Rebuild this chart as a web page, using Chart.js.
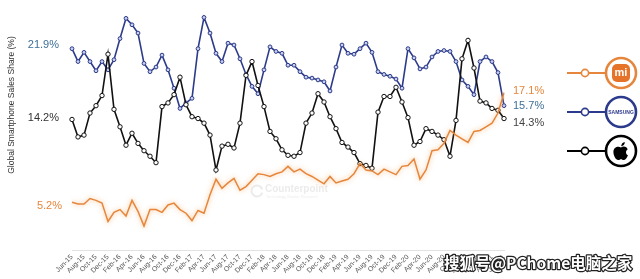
<!DOCTYPE html>
<html><head><meta charset="utf-8">
<script src="https://cdn.jsdelivr.net/npm/chart.js@4"></script>
<style>html,body{margin:0;padding:0;background:#fff;}#wrap{width:640px;height:279px;}</style>
</head><body><div id="wrap"><canvas id="c" width="640" height="279"></canvas></div>
<script>
const categories = [
"Jun-15","Jul-15","Aug-15","Sep-15","Oct-15","Nov-15","Dec-15","Jan-16","Feb-16","Mar-16","Apr-16","May-16",
"Jun-16","Jul-16","Aug-16","Sep-16","Oct-16","Nov-16","Dec-16","Jan-17","Feb-17","Mar-17","Apr-17","May-17",
"Jun-17","Jul-17","Aug-17","Sep-17","Oct-17","Nov-17","Dec-17","Jan-18","Feb-18","Mar-18","Apr-18","May-18",
"Jun-18","Jul-18","Aug-18","Sep-18","Oct-18","Nov-18","Dec-18","Jan-19","Feb-19","Mar-19","Apr-19","May-19",
"Jun-19","Jul-19","Aug-19","Sep-19","Oct-19","Nov-19","Dec-19","Jan-20","Feb-20","Mar-20","Apr-20","May-20",
"Jun-20","Jul-20","Aug-20","Sep-20","Oct-20","Nov-20","Dec-20","Jan-21","Feb-21","Mar-21","Apr-21","May-21","Jun-21"];
const samsung = [21.9,20.5,21.5,20.5,19.5,20.5,19.6,20.7,23.0,25.2,24.5,23.6,20.3,19.4,19.9,21.2,19.6,17.6,15.4,16.0,
16.5,21.9,25.3,23.6,21.4,20.5,22.5,22.3,20.8,19.1,17.8,17.0,19.6,22.1,21.6,21.4,20.1,20.1,19.4,18.8,
18.7,18.5,18.3,17.3,19.9,22.3,21.4,21.3,21.9,22.5,21.5,19.4,19.1,18.9,18.6,17.6,21.9,20.9,19.7,19.9,
21.0,21.6,21.7,21.6,20.5,18.5,17.8,16.9,20.5,21.0,20.5,19.3,15.7];
const apple = [14.2,12.3,12.5,14.9,15.7,16.8,21.3,15.3,13.4,11.4,12.7,11.6,10.8,10.2,9.5,15.6,16.0,16.9,18.8,15.8,
14.5,14.3,13.8,12.5,8.7,11.3,11.5,11.1,13.8,19.0,20.5,17.9,15.6,12.9,12.1,10.9,10.3,10.2,10.6,13.8,
14.9,17.0,16.1,14.5,13.2,11.7,11.2,10.6,9.4,9.2,8.9,15.0,16.7,16.7,17.7,16.1,14.4,11.4,11.8,13.2,
12.9,12.5,12.0,10.2,14.1,20.8,22.8,19.8,16.2,16.0,15.4,15.2,14.3];
const xiaomi = [5.2,5.0,5.0,5.6,5.4,5.1,3.1,4.1,4.4,3.7,5.4,4.2,2.6,4.4,4.4,4.1,4.9,5.1,4.4,4.0,
3.2,4.3,4.0,6.0,7.7,6.7,7.3,7.8,6.5,6.9,7.6,8.3,8.2,8.0,8.3,8.5,9.1,8.5,8.8,8.3,
8.0,7.6,7.2,8.0,7.3,7.5,7.7,8.3,9.4,8.7,8.6,8.2,8.8,8.5,8.2,9.1,9.2,9.9,7.7,8.7,
10.8,10.9,11.6,13.0,12.5,12.1,11.7,12.9,13.0,13.4,13.8,14.9,17.1];
const seriesNames = ["Samsung","Apple","Xiaomi"];
const yTitle = "Global Smartphone Sales Share (%)";

const C_BLUE = '#2c3b8a', C_BLACK = '#111111', C_ORANGE = '#e6863c';
const FONT = "'Liberation Sans', Arial, sans-serif";

const fmt = v => v.toFixed(1) + '%';

const glow = {
  id: 'glow',
  beforeDatasetDraw(chart, args) {
    if (args.index === 2) {
      const ctx = chart.ctx; ctx.save();
      ctx.shadowColor = 'rgba(245,150,60,0.65)'; ctx.shadowBlur = 5;
    }
  },
  afterDatasetDraw(chart, args) { if (args.index === 2) chart.ctx.restore(); }
};

function drawApple(ctx, cx, cy, s) {
  ctx.save(); ctx.translate(cx, cy); ctx.scale(s, s);
  ctx.fillStyle = '#000';
  ctx.beginPath();
  ctx.moveTo(0, -3.2);
  ctx.bezierCurveTo(2.5, -5.2, 6.5, -4.2, 7, -1);
  ctx.bezierCurveTo(4.6, 0.2, 4.8, 4.2, 7.3, 5);
  ctx.bezierCurveTo(6.2, 8, 4.5, 10, 3, 10);
  ctx.bezierCurveTo(1.6, 10, 1, 9.2, 0, 9.2);
  ctx.bezierCurveTo(-1, 9.2, -1.6, 10, -3, 10);
  ctx.bezierCurveTo(-5.5, 10, -8, 5, -8, 1.5);
  ctx.bezierCurveTo(-8, -3.5, -3, -5.2, 0, -3.2);
  ctx.closePath(); ctx.fill();
  ctx.beginPath();
  ctx.moveTo(0.2, -4.5);
  ctx.bezierCurveTo(0.2, -7, 2, -8.8, 4, -9);
  ctx.bezierCurveTo(4, -6.5, 2.4, -4.8, 0.2, -4.5);
  ctx.closePath(); ctx.fill();
  ctx.restore();
}

const deco = {
  id: 'deco',
  afterDraw(chart) {
    const ctx = chart.ctx, ys = chart.scales.y, xs = chart.scales.x;
    const n = categories.length - 1;
    ctx.save();
    // watermark counterpoint
    ctx.globalAlpha = 0.2;
    ctx.strokeStyle = '#999'; ctx.lineWidth = 2;
    ctx.beginPath(); ctx.arc(257, 191, 5.5, 0.3, Math.PI * 2 - 0.3); ctx.stroke();
    ctx.fillStyle = '#999'; ctx.font = "bold 10px " + FONT; ctx.textBaseline = 'middle'; ctx.textAlign = 'left';
    ctx.fillText('Counterpoint', 265, 189);
    ctx.font = "4px " + FONT; ctx.fillText('Technology Market Research', 266, 197);
    ctx.globalAlpha = 1;
    // y title
    ctx.save(); ctx.translate(12, 105); ctx.rotate(-Math.PI / 2);
    ctx.fillStyle = '#333'; ctx.font = "8.5px " + FONT; ctx.textAlign = 'center'; ctx.textBaseline = 'middle';
    ctx.fillText(yTitle, 0, 0); ctx.restore();
    // start labels
    ctx.font = "11px " + FONT; ctx.textBaseline = 'middle'; ctx.textAlign = 'right';
    const x0 = xs.getPixelForValue(0) - 13;
    ctx.fillStyle = '#3e6f98'; ctx.fillText(fmt(samsung[0]), x0, ys.getPixelForValue(samsung[0]) - 4);
    ctx.fillStyle = '#333'; ctx.fillText(fmt(apple[0]), x0, ys.getPixelForValue(apple[0]) - 2);
    ctx.fillStyle = C_ORANGE; ctx.fillText(fmt(xiaomi[0]), x0 + 3, ys.getPixelForValue(xiaomi[0]) + 4);
    // end labels
    ctx.textAlign = 'left';
    const x1 = xs.getPixelForValue(n) + 9;
    ctx.fillStyle = C_ORANGE; ctx.fillText(fmt(xiaomi[n]), x1, ys.getPixelForValue(xiaomi[n]) - 2);
    ctx.fillStyle = '#3e6f98'; ctx.fillText(fmt(samsung[n]), x1, ys.getPixelForValue(samsung[n]));
    ctx.fillStyle = '#444'; ctx.fillText(fmt(apple[n]), x1, ys.getPixelForValue(apple[n]) + 4);
    // legend icons
    const items = [[C_ORANGE, 73], ['#2c3a8c', 112], ['#000', 151]];
    items.forEach(([col, y], k) => {
      ctx.strokeStyle = col; ctx.lineWidth = 2;
      ctx.beginPath(); ctx.moveTo(567, y); ctx.lineTo(606, y); ctx.stroke();
      ctx.fillStyle = '#fff'; ctx.lineWidth = 1.6;
      ctx.beginPath(); ctx.arc(585, y, 3.6, 0, Math.PI * 2); ctx.fill(); ctx.stroke();
      ctx.lineWidth = 2.6;
      ctx.beginPath(); ctx.arc(621, y, 15, 0, Math.PI * 2); ctx.fill(); ctx.stroke();
      if (k === 0) {
        ctx.fillStyle = '#e5742a';
        ctx.beginPath(); ctx.roundRect(612, y - 9, 18, 18, 5); ctx.fill();
        ctx.fillStyle = '#fff'; ctx.font = "bold 11px " + FONT; ctx.textAlign = 'center'; ctx.textBaseline = 'middle';
        ctx.fillText('mi', 621, y);
      } else if (k === 1) {
        ctx.fillStyle = '#2c3a8c'; ctx.font = "bold 5px " + FONT; ctx.textAlign = 'center'; ctx.textBaseline = 'middle';
        ctx.fillText('SAMSUNG', 621, y + 0.5);
      } else {
        drawApple(ctx, 621, y - 0.5, 0.95);
      }
    });
    // sohu watermark
    ctx.font = "bold 15.5px 'Noto Sans CJK SC', sans-serif"; ctx.textAlign = 'left'; ctx.textBaseline = 'middle';
    ctx.lineWidth = 2.5; ctx.strokeStyle = '#222'; ctx.lineJoin = 'round';
    ctx.strokeText('搜狐号@PChome电脑之家', 444, 263);
    ctx.fillStyle = '#fff'; ctx.fillText('搜狐号@PChome电脑之家', 444, 263);
    ctx.restore();
  }
};

new Chart(document.getElementById('c'), {
  type: 'line',
  data: {
    labels: categories,
    datasets: [
      { label: seriesNames[0], data: samsung, borderColor: C_BLUE, borderWidth: 1.6, pointRadius: 1.9,
        pointBackgroundColor: '#c9cfe8', pointBorderColor: C_BLUE, pointBorderWidth: 1, tension: 0, order: 2 },
      { label: seriesNames[1], data: apple, borderColor: C_BLACK, borderWidth: 1.6, pointRadius: 2.2,
        pointBackgroundColor: '#fff', pointBorderColor: C_BLACK, pointBorderWidth: 1, tension: 0, order: 1 },
      { label: seriesNames[2], data: xiaomi, borderColor: C_ORANGE, borderWidth: 1.5, pointRadius: 0,
        tension: 0, order: 0 }
    ]
  },
  options: {
    responsive: false, animation: false,
    layout: { padding: { left: 72, right: 136, top: 11, bottom: 0 } },
    plugins: { legend: { display: false }, tooltip: { enabled: false } },
    scales: {
      x: {
        offset: false,
        grid: { display: false, drawTicks: false },
        border: { display: true, color: '#e2e2e2', width: 1 },
        ticks: { autoSkip: false, minRotation: 45, maxRotation: 45, padding: 3, color: '#555',
          font: { size: 7, family: FONT },
          callback: (v, i) => (i % 2 === 0 ? categories[i] : '') },
        afterFit: s => { s.height = 29; }
      },
      y: { display: false, min: 0, max: 26 }
    }
  },
  plugins: [glow, deco]
});
</script></body></html>
